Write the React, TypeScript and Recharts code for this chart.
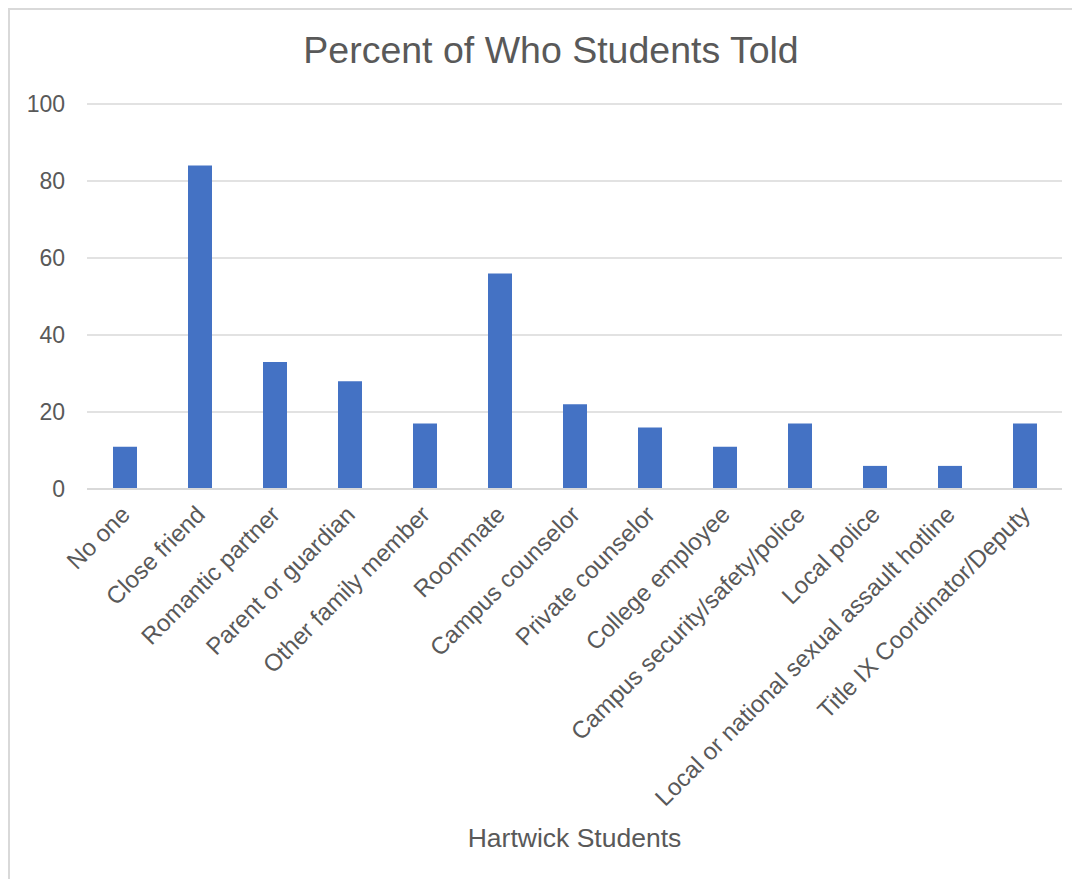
import { BarChart, Bar, XAxis, YAxis, CartesianGrid } from 'recharts';

const categories = [
  'No one',
  'Close friend',
  'Romantic partner',
  'Parent or guardian',
  'Other family member',
  'Roommate',
  'Campus counselor',
  'Private counselor',
  'College employee',
  'Campus security/safety/police',
  'Local police',
  'Local or national sexual assault hotline',
  'Title IX Coordinator/Deputy',
];
const percents = [11, 84, 33, 28, 17, 56, 22, 16, 11, 17, 6, 6, 17];
const yTicks = [0, 20, 40, 60, 80, 100];

const data = categories.map((name, i) => ({ name, pct: percents[i] }));

const FONT = '"Liberation Sans", Arial, sans-serif';
const TEXT = '#595959';

function AngledTick(props: any) {
  const { x, y, payload } = props;
  return (
    <g transform={`translate(${x + 7},${y + 19})`}>
      <text
        transform="rotate(-45)"
        textAnchor="end"
        fill={TEXT}
        fontSize={24}
        fontFamily={FONT}
      >
        {payload.value}
      </text>
    </g>
  );
}

export default function App() {
  return (
    <div style={{ position: 'relative', width: 1072, height: 871, fontFamily: FONT }}>
      <div
        style={{
          position: 'absolute',
          left: 0,
          top: 0,
          width: 1100,
          height: 900,
          borderTop: '2px solid #d9d9d9',
          borderLeft: '2px solid #d9d9d9',
          boxSizing: 'border-box',
        }}
      />
      <BarChart
        width={1072}
        height={871}
        data={data}
        margin={{ top: 96, right: 18, left: 0, bottom: 0 }}
        style={{ position: 'absolute', left: 0, top: 0 }}
      >
        <text x={543} y={55} textAnchor="middle" fill={TEXT} fontSize={37.5} fontFamily={FONT}>
          Percent of Who Students Told
        </text>
        <CartesianGrid vertical={false} stroke="#d9d9d9" strokeWidth={1.5} />
        <XAxis
          dataKey="name"
          interval={0}
          height={390}
          tickLine={false}
          axisLine={{ stroke: '#d9d9d9', strokeWidth: 2 }}
          tick={<AngledTick />}
          label={{
            value: 'Hartwick Students',
            position: 'insideBottom',
            offset: 32,
            fill: TEXT,
            fontSize: 26.5,
            fontFamily: FONT,
          }}
        />
        <YAxis
          width={79}
          domain={[0, 100]}
          ticks={yTicks}
          tickLine={false}
          axisLine={false}
          tickMargin={16}
          tick={{ fill: TEXT, fontSize: 23, fontFamily: FONT }}
        />
        <Bar dataKey="pct" fill="#4472c4" barSize={24} isAnimationActive={false} />
      </BarChart>
    </div>
  );
}
